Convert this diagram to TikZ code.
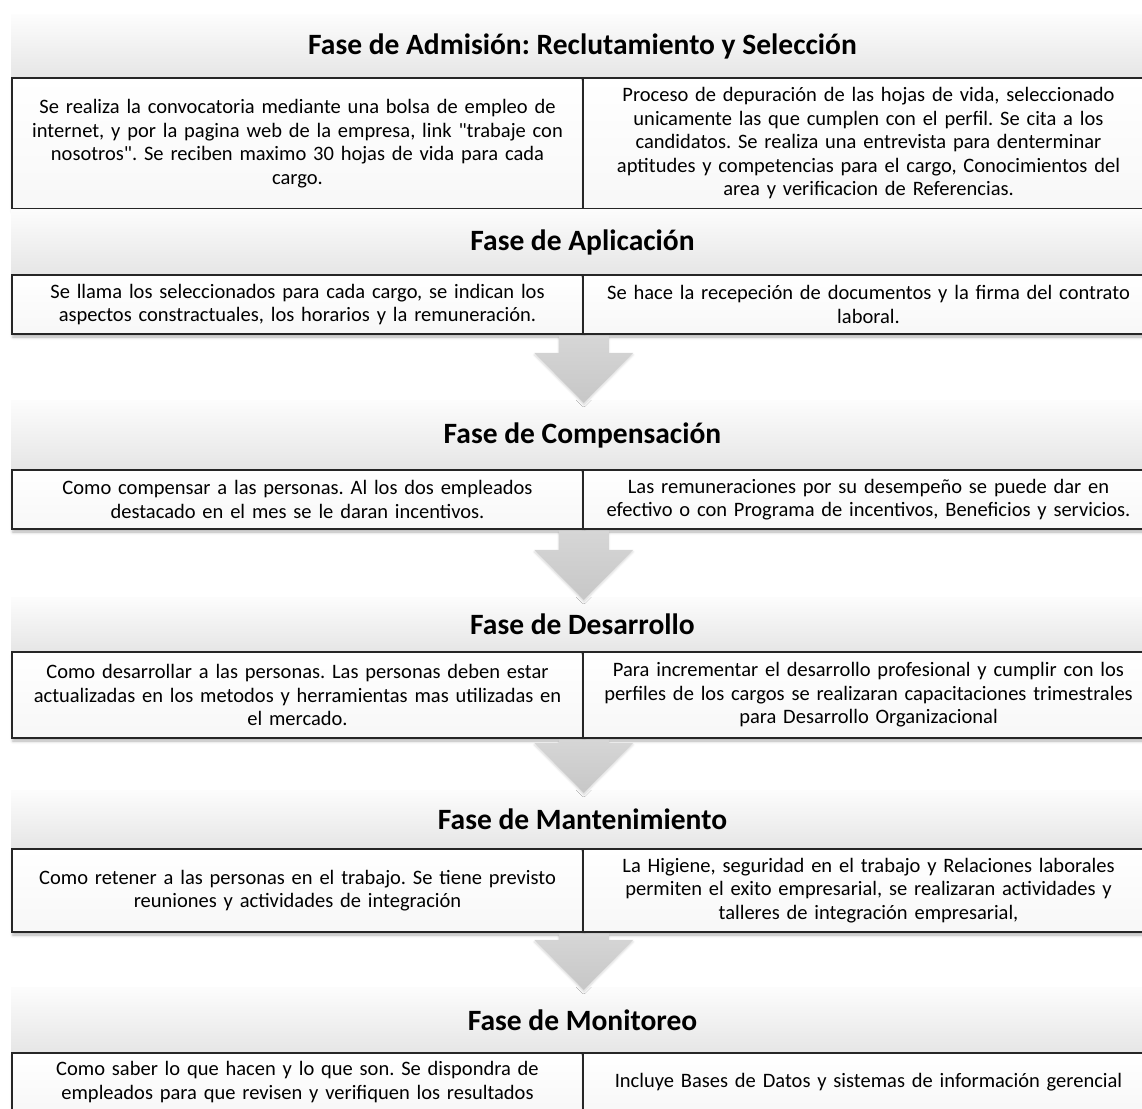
\documentclass[tikz,border=0pt]{standalone}
\usepackage{fontspec}
\setmainfont{Carlito}
\usetikzlibrary{calc,shadows.blur}
\frenchspacing

\begin{document}
\begin{tikzpicture}[
  x=1pt, y=-1pt,
  font=\fontsize{20.5}{23.5}\selectfont,
  fasebar/.style={rectangle, minimum height=#1, minimum width=1143pt, inner sep=0pt, top color=black!1, bottom color=black!10, font=\fontsize{29.5}{34}\selectfont\bfseries},
  celda/.style={rectangle, minimum height=#1, minimum width=571pt, text width=561pt, align=center, inner sep=0pt, draw=black!85, line width=1.5pt, top color=white, bottom color=black!3, blur shadow={shadow xshift=1pt, shadow yshift=-3pt, shadow blur radius=3pt, shadow opacity=30}},
  flecha/.style={top color=black!16, bottom color=black!22, blur shadow={shadow xshift=0pt, shadow yshift=-2pt, shadow blur radius=2pt, shadow opacity=15}}
]
\useasboundingbox (0,0) rectangle (1142,1108);
\clip (0,0) rectangle (1142,1108);

% fase de admision
\node[fasebar=63pt] (fase1) at (582.5,46.5) {Fase de Admisión: Reclutamiento y Selección};
\node[celda=131pt] (izq1) at (297.5,143.5) {Se realiza la convocatoria mediante una bolsa de empleo de\\ internet, y por la pagina web de la empresa, link \textquotedbl trabaje con\\ nosotros\textquotedbl. Se reciben maximo 30 hojas de vida para cada\\ cargo.};
\node[celda=131pt] (der1) at (868.5,143.5) {Proceso de depuración de las hojas de vida, seleccionado\\ unicamente las que cumplen con el perfil. Se cita a los\\ candidatos. Se realiza una entrevista para denterminar\\ aptitudes y competencias para el cargo, Conocimientos del\\ area y verificacion de Referencias.};

% fase de aplicacion
\node[fasebar=66pt] (fase2) at (582.5,242) {Fase de Aplicación};
\node[celda=59pt] (izq2) at (297.5,304.5) {Se llama los seleccionados para cada cargo, se indican los\\ aspectos constractuales, los horarios y la remuneración.};
\node[celda=59pt] (der2) at (868.5,304.5) {Se hace la recepeción de documentos y la firma del contrato\\ laboral.};

% fase de compensacion
\node[fasebar=70pt] (fase3) at (582.5,435) {Fase de Compensación};
\node[celda=59pt] (izq3) at (297.5,499.5) {Como compensar a las personas. Al los dos empleados\\ destacado en el mes se le daran incentivos.};
\node[celda=59pt] (der3) at (868.5,499.5) {Las remuneraciones por su desempeño se puede dar en\\ efectivo o con Programa de incentivos, Beneficios y servicios.};

% fase de desarrollo
\node[fasebar=55pt] (fase4) at (582.5,624.5) {Fase de Desarrollo};
\node[celda=86pt] (izq4) at (297.5,695) {Como desarrollar a las personas. Las personas deben estar\\ actualizadas en los metodos y herramientas mas utilizadas en\\ el mercado.};
\node[celda=86pt] (der4) at (868.5,695) {Para incrementar el desarrollo profesional y cumplir con los\\ perfiles de los cargos se realizaran capacitaciones trimestrales\\ para Desarrollo Organizacional};

% fase de mantenimiento
\node[fasebar=59pt] (fase5) at (582.5,819.5) {Fase de Mantenimiento};
\node[celda=83pt] (izq5) at (297.5,890.5) {Como retener a las personas en el trabajo. Se tiene previsto\\ reuniones y actividades de integración};
\node[celda=83pt] (der5) at (868.5,890.5) {La Higiene, seguridad en el trabajo y Relaciones laborales\\ permiten el exito empresarial, se realizaran actividades y\\ talleres de integración empresarial,};

% fase de monitoreo
\node[fasebar=66pt] (fase6) at (582.5,1020) {Fase de Monitoreo};
\node[celda=58pt] (izq6) at (297.5,1082) {Como saber lo que hacen y lo que son. Se dispondra de\\ empleados para que revisen y verifiquen los resultados};
\node[celda=58pt] (der6) at (868.5,1082) {Incluye Bases de Datos y sistemas de información gerencial};

% flechas entre fases
\foreach \a/\b in {izq2/fase3,izq3/fase4,izq4/fase5,izq5/fase6}
  \path[flecha] let \p1=(\a.south east), \p2=(\b.north) in
    (\x1-25pt,\y1-0.8pt) -- (\x1+25pt,\y1-0.8pt) -- (\x1+25pt,\y2+47pt) -- (\x1+49.5pt,\y2+47pt)
    -- (\x1,\y2-3pt) -- (\x1-49.5pt,\y2+47pt) -- (\x1-25pt,\y2+47pt) -- cycle;
\end{tikzpicture}
\end{document}
